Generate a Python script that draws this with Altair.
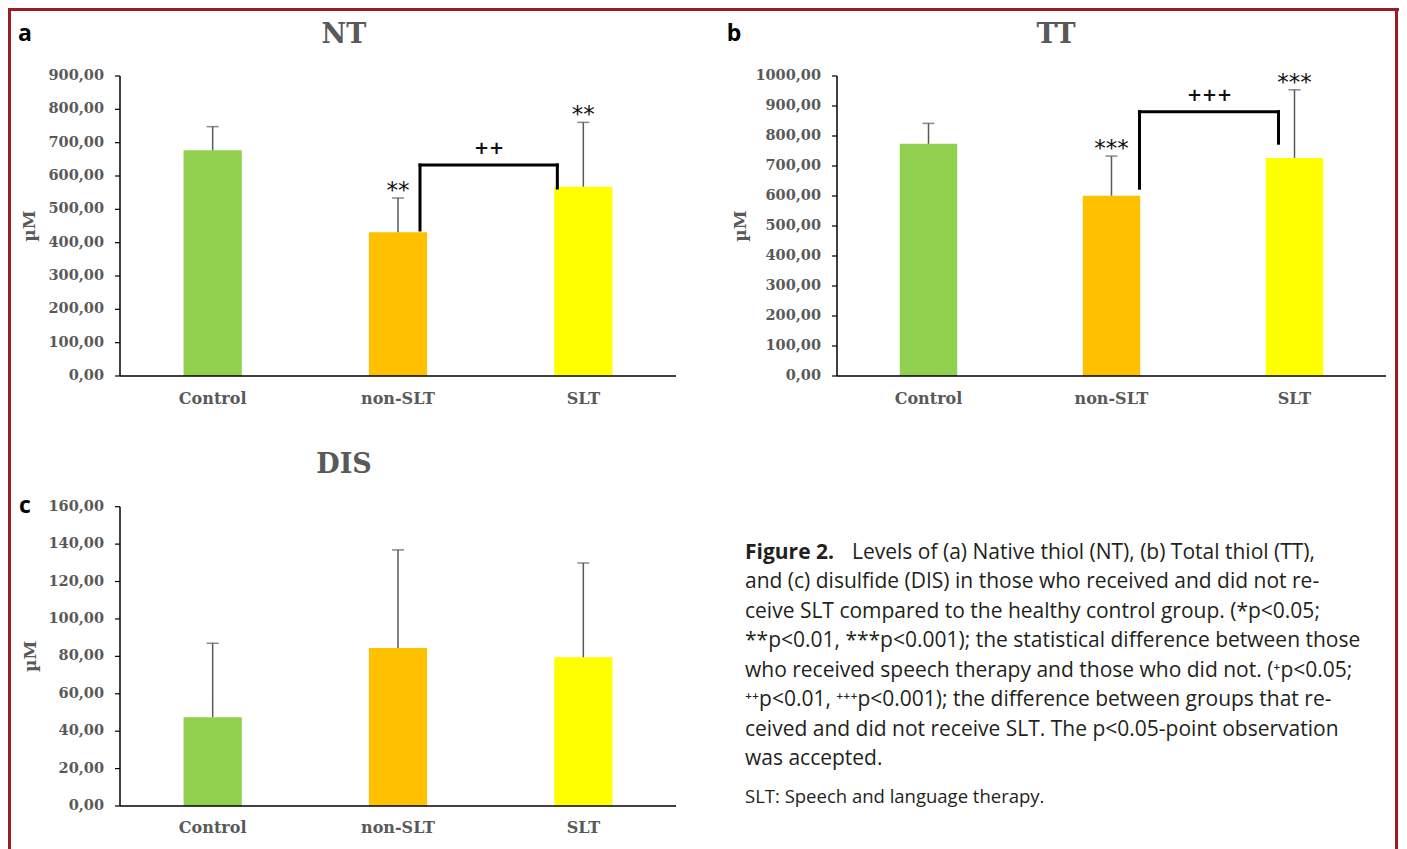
import altair as alt
import pandas as pd

# ---------------- data ----------------
groups = ["Control", "non-SLT", "SLT"]
bar_colors = ["#92D050", "#FFC000", "#FFFF00"]

nt_mean = [677, 431, 568]
nt_err_top = [748, 534, 761]
nt_stars = ["", "**", "**"]

tt_mean = [774, 601, 727]
tt_err_top = [842, 733, 954]
tt_stars = ["", "***", "***"]

dis_mean = [47.4, 84.5, 79.5]
dis_err_top = [87.0, 136.9, 129.9]
dis_stars = ["", "", ""]

# bracket: [left leg bottom, bracket height, right leg bottom]
nt_bracket = [438, 633, 564]
tt_bracket = [626, 881, 776]
nt_plus = "++"
tt_plus = "+++"

nt_ticks = [0, 100, 200, 300, 400, 500, 600, 700, 800, 900]
tt_ticks = [0, 100, 200, 300, 400, 500, 600, 700, 800, 900, 1000]
dis_ticks = [0, 20, 40, 60, 80, 100, 120, 140, 160]
y_title = "\u00b5M"

caption_lines = [
    "Levels of  (a) Native thiol (NT), (b) Total thiol (TT),",
    "and (c) disulfide (DIS) in those who received and did not re-",
    "ceive SLT compared to the healthy control group. (*p<0.05;",
    "**p<0.01, ***p<0.001); the statistical difference between those",
    "who received speech therapy and those who did not. (\u207ap<0.05;",
    "\u207a\u207ap<0.01, \u207a\u207a\u207ap<0.001); the difference between groups that re-",
    "ceived and did not receive SLT. The p<0.05-point observation",
    "was accepted.",
]
caption_bold = "Figure 2."
footnote = "SLT: Speech and language therapy."

W, H = 1391, 841
SERIF = "DejaVu Serif"
GRAY = "#595959"


def panel(title, letter, mean, err_top, stars, ticks, xr, yr,
          title_xy, letter_xy, ytitle_off, xlab_off=23,
          bracket=None, plus=None, offs=(0, 0), plus_dx=0):
    ymax = ticks[-1]
    df = pd.DataFrame({"group": groups, "mean": mean, "err": err_top, "stars": stars})
    xscale = alt.Scale(domain=groups, range=xr, paddingInner=0.686, paddingOuter=0.343)
    yscale = alt.Scale(domain=[0, ymax], range=yr, nice=False, zero=True)
    X = alt.X("group:N", scale=xscale, axis=None, sort=groups)

    def Y(f):
        return alt.Y(f, type="quantitative", scale=yscale, axis=None)

    bars = alt.Chart(df).mark_bar().encode(
        x=X, y=Y("mean"),
        color=alt.Color("group:N", scale=alt.Scale(domain=groups, range=bar_colors), legend=None),
    )
    err = alt.Chart(df).mark_rule(color=GRAY, strokeWidth=1.5).encode(
        x=X, y=Y("mean"), y2="err:Q")
    cap = alt.Chart(df).mark_tick(color=GRAY, thickness=1.5, size=12).encode(
        x=X, y=Y("err"))
    star = alt.Chart(df).mark_text(font="DejaVu Sans", fontSize=23, color="#111111",
                                   baseline="alphabetic", dy=0).encode(
        x=X, y=Y("err"), text="stars:N")
    zero_df = df.assign(base=0)
    xlab = alt.Chart(zero_df).mark_text(font=SERIF, fontSize=16, fontWeight="bold", color=GRAY,
                                        baseline="middle", align="center",
                                        yOffset=xlab_off).encode(
        x=X, y=Y("base"), text="group:N")
    layers = [bars, err, cap, star, xlab]

    if bracket is not None:
        bdf = pd.DataFrame({"g1": [groups[1]], "g2": [groups[2]], "low1": [bracket[0]],
                            "top": [bracket[1]], "low2": [bracket[2]], "label": [plus]})
        X1 = alt.X("g1:N", scale=xscale, axis=None)
        X2 = alt.X("g2:N", scale=xscale, axis=None)
        leg1 = alt.Chart(bdf).mark_rule(color="black", strokeWidth=3, strokeCap="square",
                                        xOffset=offs[0]).encode(
            x=X1, y=Y("low1"), y2="top:Q")
        leg2 = alt.Chart(bdf).mark_rule(color="black", strokeWidth=3, strokeCap="square",
                                        xOffset=offs[1]).encode(
            x=X2, y=Y("low2"), y2="top:Q")
        topl = alt.Chart(bdf).mark_rule(color="black", strokeWidth=3, strokeCap="square",
                                        xOffset=offs[0], x2Offset=offs[1]).encode(
            x=X1, x2="g2:N", y=Y("top"))
        ptxt = alt.Chart(bdf).mark_text(font="DejaVu Sans", fontSize=18, fontWeight="bold",
                                        color="#111111", baseline="alphabetic", dy=-11,
                                        dx=plus_dx).encode(
            x=X1, y=Y("top"), text="label:N")
        layers += [leg1, leg2, topl, ptxt]

    data_layer = alt.layer(*layers)

    # ---- axis frame (own linear x scale spanning the plot range) ----
    fscale = alt.Scale(domain=[0, 1], range=xr, nice=False, zero=False)
    FX = alt.X("x0:Q", scale=fscale, axis=None)
    frame_df = pd.DataFrame({"x0": [0], "x1": [1], "ymin": [0], "ymax": [ymax],
                             "ymid": [ymax / 2], "t": [y_title]})
    tick_df = pd.DataFrame({"v": ticks, "x0": [0] * len(ticks)})
    ydom = alt.Chart(frame_df).mark_rule(color="black", strokeWidth=1.5).encode(
        x=FX, y=Y("ymin"), y2="ymax:Q")
    xdom = alt.Chart(frame_df).mark_rule(color="black", strokeWidth=1.5).encode(
        x=FX, x2="x1:Q", y=Y("ymin"))
    tks = alt.Chart(tick_df).mark_rule(color="black", strokeWidth=1.2, xOffset=-5).encode(
        x=FX, x2="x0:Q", y=Y("v"))
    tlab = alt.Chart(tick_df).transform_calculate(
        lab="replace(format(datum.v, '.2f'), '.', ',')"
    ).mark_text(font=SERIF, fontSize=14.5, fontWeight="bold", color=GRAY, align="right",
                baseline="middle", xOffset=-16).encode(
        x=FX, y=Y("v"), text="lab:N")
    ytl = alt.Chart(frame_df).mark_text(font=SERIF, fontSize=17, fontWeight="bold", color=GRAY,
                                        align="center", baseline="middle", angle=270,
                                        xOffset=ytitle_off).encode(
        x=FX, y=Y("ymid"), text="t:N")
    frame_layer = alt.layer(ydom, xdom, tks, tlab, ytl)

    tdf = pd.DataFrame({"t": [title], "l": [letter]})
    ttl = alt.Chart(tdf).mark_text(font=SERIF, fontSize=27, fontWeight="bold", color=GRAY,
                                   align="center", baseline="middle").encode(
        x=alt.value(title_xy[0]), y=alt.value(title_xy[1]), text="t:N")
    let = alt.Chart(tdf).mark_text(font="Open Sans", fontSize=23, fontWeight="bold",
                                   color="#000000", align="center", baseline="middle").encode(
        x=alt.value(letter_xy[0]), y=alt.value(letter_xy[1]), text="l:N")

    return alt.layer(data_layer, frame_layer, ttl, let).resolve_scale(x="independent")


pa = panel("NT", "a", nt_mean, nt_err_top, nt_stars, nt_ticks, [112, 668], [368, 68],
           (336, 27), (17, 26), -90, 23, nt_bracket, nt_plus, (22, -26), 91)
pb = panel("TT", "b", tt_mean, tt_err_top, tt_stars, tt_ticks, [829, 1378], [368, 68],
           (1048, 27), (726, 26), -96, 23, tt_bracket, tt_plus, (28, -16), 98)
pc = panel("DIS", "c", dis_mean, dis_err_top, dis_stars, dis_ticks, [112, 668], [798, 498.7],
           (336, 457), (17, 498), -89, 22)

cap_df = pd.DataFrame({"line": list(range(len(caption_lines))), "text": caption_lines,
                       "x": [844] + [737] * (len(caption_lines) - 1)})
caption = alt.Chart(cap_df).mark_text(font="Open Sans", fontSize=21, color="#231F20",
                                      align="left", baseline="middle").encode(
    x=alt.X("x:Q", scale=alt.Scale(domain=[0, W], range=[0, W]), axis=None),
    y=alt.Y("line:Q", scale=alt.Scale(domain=[0, 7], range=[545, 751]), axis=None),
    text="text:N",
)
bold_df = pd.DataFrame({"t": [caption_bold], "f": [footnote]})
cap_bold = alt.Chart(bold_df).mark_text(font="Open Sans", fontSize=21, fontWeight="bold",
                                        color="#231F20", align="left", baseline="middle").encode(
    x=alt.value(737), y=alt.value(545), text="t:N")
foot = alt.Chart(bold_df).mark_text(font="Open Sans", fontSize=18.5, color="#231F20",
                                    align="left", baseline="middle").encode(
    x=alt.value(737), y=alt.value(789), text="f:N")

BORDER = "#9B1B22"
b_top = alt.Chart(bold_df).mark_rule(color=BORDER, strokeWidth=3).encode(
    x=alt.value(0), x2=alt.value(W), y=alt.value(1.5))
b_left = alt.Chart(bold_df).mark_rule(color=BORDER, strokeWidth=3).encode(
    x=alt.value(1.5), y=alt.value(0), y2=alt.value(H))
b_right = alt.Chart(bold_df).mark_rule(color=BORDER, strokeWidth=3).encode(
    x=alt.value(W - 2.5), y=alt.value(0), y2=alt.value(H))

chart = alt.layer(pa, pb, pc, caption, cap_bold, foot, b_top, b_left, b_right).resolve_scale(
    x="independent", y="independent"
).properties(
    width=W, height=H, padding=0, autosize=alt.AutoSizeParams(type="none"),
    background="white",
).configure_view(stroke=None)

chart.save("out.html", embed_options={"renderer": "svg", "actions": False})
